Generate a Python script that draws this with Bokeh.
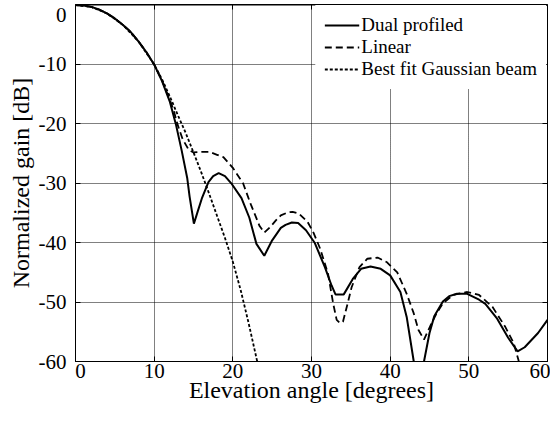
from bokeh.plotting import figure
from bokeh.models import Range1d, LinearAxis, FixedTicker, Legend, LegendItem
from bokeh.embed import file_html
from bokeh.resources import INLINE

FONT = "Liberation Serif"

# ---- data ----
dual_x = [0, 1, 2, 3, 4, 5, 6, 7, 8, 9, 10, 11, 12, 12.75, 13.5, 14.2, 14.5, 15.05, 15.5, 16.1,
          16.9, 17.5, 18.2, 19, 19.8, 21.1, 22.1, 23, 24, 25, 26.1, 26.7, 27.5, 28.3, 29.3,
          30.4, 31.7, 32.55, 33.05, 34.1, 35.25, 36.3, 37.5, 38.8, 40, 41.3, 42.1, 43, 43.5,
          44, 44.3, 45, 45.6, 46.7, 47.5, 48.5, 49.8, 51.3, 52.1, 53.6, 55, 56.2, 57.1, 58.8, 60]
dual_y = [0, -0.08, -0.3, -0.75, -1.4, -2.25, -3.3, -4.5, -6.1, -7.9, -10, -12.8, -16.3, -20,
          -24.5, -29.1, -32.2, -36.8, -34.9, -32.4, -29.8, -28.8, -28.3, -28.8, -30, -32.5,
          -35.8, -40.2, -42.2, -39.6, -37.5, -37, -36.6, -36.7, -37.9, -40, -44.1, -47.2,
          -48.7, -48.7, -46.1, -44.4, -44, -44.4, -45.5, -48.3, -52.5, -60, -68, -68, -60,
          -55.2, -52.4, -49.9, -49, -48.6, -48.6, -49.6, -50.3, -52.8, -56, -58.3, -57.6,
          -55.2, -53]

linear_x = [0, 1, 2, 3, 4, 5, 6, 7, 8, 9, 10, 11, 12, 12.5, 12.95, 13.6, 14.4, 15, 16, 17, 18,
            18.8, 20, 21.3, 22.3, 23.4, 24, 24.8, 25.5, 26.1, 27, 27.6, 28.4, 29.5, 30.25, 31.1,
            32.1, 32.75, 33.2, 33.6, 34, 34.6, 35.1, 36.1, 37.1, 38.4, 39.6, 40.9, 42.1, 43,
            43.6, 44.3, 45.25, 45.9, 46.7, 48, 49.8, 51.3, 53, 54.6, 55.7, 56.3, 56.7]
linear_y = [0, -0.08, -0.3, -0.75, -1.4, -2.25, -3.3, -4.5, -6.1, -7.9, -10, -12.7, -16.0,
            -17.8, -20, -22.5, -24.4, -24.8, -24.7, -24.7, -25.2, -25.6, -27.4, -30.0, -33.6,
            -37.2, -38.3, -37.3, -36.2, -35.4, -34.9, -34.8, -35.1, -36.5, -38.3, -41, -45.2,
            -50.2, -53, -53.5, -53.3, -50.2, -47.5, -44.1, -42.7, -42.5, -43.3, -45, -48.6,
            -51.9, -54.7, -56.3, -53.6, -51.9, -50.2, -48.8, -48.3, -48.8, -50.8, -54.1, -56.9,
            -59.7, -62]

gauss_x = [0, 2, 4, 6, 8, 10, 11, 12, 13, 14, 15, 16, 17, 18, 19, 20, 21, 22, 23.1]
gauss_y = [0, -0.3, -1.4, -3.3, -6.1, -10, -12.5, -15.4, -18.5, -21.5, -24.8, -28.2, -31.8,
           -35.5, -39.2, -43.2, -48, -53.5, -60]

series_names = ["Dual profiled", "Linear", "Best fit Gaussian beam"]

x_ticks = [0, 10, 20, 30, 40, 50, 60]
x_tick_labels = ["0", "10", "20", "30", "40", "50", "60"]
y_ticks = [-60, -50, -40, -30, -20, -10, 0]
y_tick_labels = ["-60", "-50", "-40", "-30", "-20", "-10", "0"]

x_label = "Elevation angle [degrees]"
y_label = "Normalized gain [dB]"

# ---- figure ----
p = figure(width=550, height=405, x_range=Range1d(0, 60), y_range=Range1d(-60, 0.1),
           output_backend="svg", toolbar_location=None,
           min_border_left=75, min_border_right=3, min_border_top=4, min_border_bottom=44)
p.background_fill_color = "white"
p.border_fill_color = "white"
p.outline_line_color = "black"
p.outline_line_width = 1

r1 = p.line(dual_x, dual_y, line_color="black", line_width=2)
r2 = p.line(linear_x, linear_y, line_color="black", line_width=1.8, line_dash="7 4")
r3 = p.line(gauss_x, gauss_y, line_color="black", line_width=1.8, line_dash="3 2")

xt = FixedTicker(ticks=x_ticks)
yt = FixedTicker(ticks=y_ticks)

def style_axis(ax, ticker):
    ax.ticker = ticker
    ax.axis_line_color = "black"
    ax.axis_line_width = 1
    ax.major_tick_in = 5
    ax.major_tick_out = 0
    ax.major_tick_line_color = "black"
    ax.minor_tick_line_color = None
    ax.major_label_text_font = FONT
    ax.major_label_text_font_style = "normal"
    ax.major_label_text_font_size = "21px"
    ax.major_label_text_color = "black"
    ax.axis_label_text_font = FONT
    ax.axis_label_text_font_size = "24px"
    ax.axis_label_text_font_style = "normal"
    ax.axis_label_text_color = "black"

def edge_axis(ax, ticks, labels, first_shift, last_shift):
    # tick labels as major ticks (no tick line), tick marks as minor ticks,
    # so the end labels can sit slightly inside the frame as in the reference.
    pos = [ticks[0] + first_shift] + ticks[1:-1] + [ticks[-1] + last_shift]
    ax.ticker = FixedTicker(ticks=pos, minor_ticks=ticks)
    ax.major_label_overrides = {q: l for q, l in zip(pos, labels)}
    ax.major_tick_line_color = None
    ax.minor_tick_line_color = "black"
    ax.minor_tick_in = 5
    ax.minor_tick_out = 0

def tick_only_axis(ax, ticker):
    # inward tick marks on the top / right edges, no labels drawn
    style_axis(ax, ticker)
    ax.axis_line_color = None
    ax.major_label_text_font_size = "1px"
    ax.major_label_text_color = None
    ax.major_label_standoff = 0

# bottom axis ("0" label nudged right of its gridline)
X_ZERO_LABEL_SHIFT = 0.65  # degrees, label offset only
xa = p.xaxis[0]
style_axis(xa, xt)
edge_axis(xa, x_ticks, x_tick_labels, X_ZERO_LABEL_SHIFT, 0)
xa.axis_label = x_label
xa.major_label_standoff = 2
xa.axis_label_standoff = -4

# left axis ("0" label sits a little below its gridline)
Y_ZERO_LABEL_DROP = 1.7  # dB, label offset only
ya = p.yaxis[0]
style_axis(ya, yt)
edge_axis(ya, y_ticks, y_tick_labels, 0, -Y_ZERO_LABEL_DROP)
ya.axis_label = y_label
ya.major_label_standoff = 9
ya.axis_label_standoff = 2

top = LinearAxis()
tick_only_axis(top, xt)
p.add_layout(top, "above")

right = LinearAxis()
tick_only_axis(right, yt)
p.add_layout(right, "right")

for g, t in ((p.xgrid[0], xt), (p.ygrid[0], yt)):
    g.ticker = t
    g.grid_line_color = "black"
    g.grid_line_alpha = 1
    g.grid_line_width = 1
    g.grid_line_dash = "1 1"

legend = Legend(items=[LegendItem(label=series_names[0], renderers=[r1]),
                       LegendItem(label=series_names[1], renderers=[r2]),
                       LegendItem(label=series_names[2], renderers=[r3])],
                location="top_right")
legend.label_text_font = FONT
legend.label_text_font_size = "19px"
legend.label_text_color = "black"
legend.glyph_width = 35
legend.glyph_height = 20
legend.label_height = 20
legend.label_standoff = 2
legend.spacing = 0
legend.padding = 9
legend.margin = 1
legend.border_line_alpha = 0
legend.background_fill_color = "white"
legend.background_fill_alpha = 1
p.add_layout(legend)

open("out.html", "w").write(file_html(p, INLINE))
